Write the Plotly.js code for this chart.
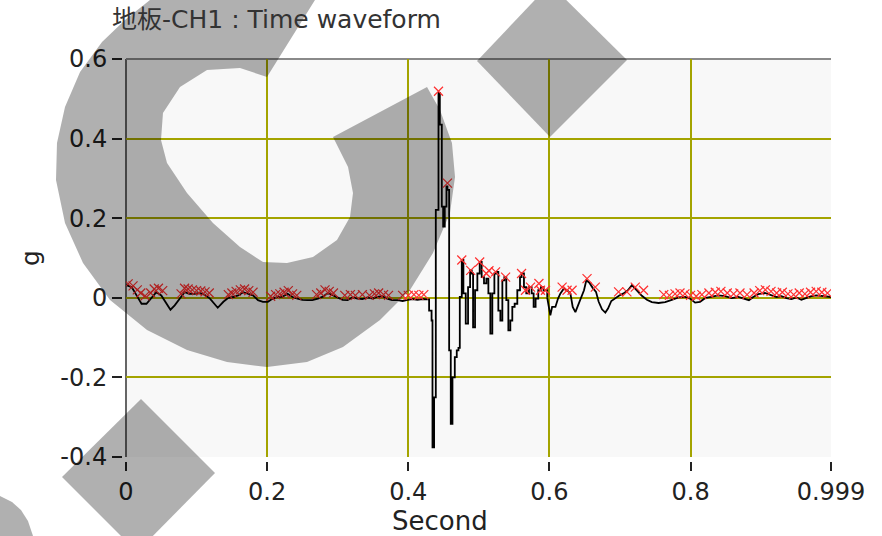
<!DOCTYPE html>
<html><head><meta charset="utf-8">
<script src="https://cdn.plot.ly/plotly-3.0.1.min.js"></script>
<style>html,body{margin:0;padding:0;background:#fff}#chart{width:882px;height:536px}</style>
</head><body><div id="chart"></div>
<script>
// ---- data ----
const timeSec = [
0.000,0.008,0.015,0.022,0.029,0.036,0.043,0.050,0.057,0.063,0.069,0.076,0.083,0.090,0.097,0.104,0.111,0.119,0.126,0.130,
0.138,0.145,0.152,0.159,0.166,0.173,0.180,0.187,0.194,0.201,0.208,0.215,0.222,0.229,0.236,0.243,0.250,0.257,0.264,0.272,
0.279,0.286,0.293,0.300,0.307,0.314,0.321,0.328,0.335,0.342,0.349,0.356,0.363,0.370,0.377,0.385,0.392,0.399,0.406,0.413,
0.420,0.427,0.4295,0.4330,0.4343,0.4366,0.4390,0.4428,0.4447,0.4475,0.4494,0.4517,0.4541,0.4555,0.4579,0.4602,0.4626,0.4659,0.4687,0.4711,
0.4730,0.4758,0.4781,0.4814,0.4847,0.4876,0.4899,0.4918,0.4946,0.4979,0.5012,0.5040,0.5073,0.5107,0.5135,0.5163,0.5191,0.5220,0.5248,0.5276,
0.5305,0.5333,0.5361,0.5389,0.5418,0.5446,0.5474,0.5507,0.5545,0.5583,0.5606,0.5639,0.5672,0.5710,0.5748,0.5776,0.5804,0.5842,0.5880,0.5917,
0.5969,0.6013,0.6038,0.6085,0.6122,0.6156,0.6203,0.6250,0.6297,0.6330,0.6368,0.6405,0.6452,0.6490,0.6523,0.6566,0.6613,0.6660,0.6698,0.6745,
0.6792,0.6830,0.6877,0.6933,0.6990,0.7051,0.7112,0.7169,0.7207,0.7254,0.7310,0.7381,0.7451,0.7546,0.7640,0.7734,0.7828,0.7922,0.7993,0.8064,
0.8134,0.8205,0.8299,0.8393,0.8488,0.8582,0.8676,0.8770,0.8827,0.8888,0.8959,0.9053,0.9147,0.9218,0.9288,0.9359,0.9430,0.9500,0.9571,0.9642,
0.9712,0.9783,0.9854,0.9925,0.9990
];
const accelG = [
0.032,0.027,0.006,-0.015,-0.015,0.001,0.014,0.006,-0.015,-0.030,-0.019,-0.002,0.014,0.010,0.010,0.012,0.008,-0.002,-0.016,-0.025,
-0.010,0.000,0.002,0.006,0.014,0.010,0.006,-0.006,-0.010,-0.010,-0.002,0.002,0.003,0.010,0.002,-0.002,-0.005,-0.006,-0.006,-0.002,
0.003,0.012,0.006,0.000,-0.005,-0.006,0.001,-0.002,-0.003,0.001,-0.002,0.002,0.004,-0.002,-0.006,-0.006,-0.008,-0.005,-0.003,-0.005,
-0.003,-0.004,-0.032,-0.057,-0.376,-0.250,0.221,0.515,0.435,0.229,0.179,0.229,0.280,0.271,-0.132,-0.317,-0.200,-0.149,-0.132,-0.126,
0.002,0.095,0.011,-0.065,0.027,0.069,0.061,-0.074,0.019,0.061,0.090,0.052,0.036,0.048,0.011,-0.090,0.011,0.061,0.065,-0.032,
-0.057,0.044,0.052,-0.006,-0.082,-0.057,-0.023,-0.015,0.019,0.052,0.061,0.027,0.011,0.027,0.011,-0.023,-0.002,0.019,0.027,0.019,
0.000,-0.044,-0.023,-0.023,-0.002,0.011,0.023,0.019,0.011,-0.023,-0.036,-0.019,-0.002,0.019,0.044,0.038,0.025,0.015,-0.010,-0.029,
-0.037,-0.027,-0.008,0.000,0.006,0.011,0.019,0.032,0.025,0.015,0.005,-0.005,-0.011,-0.013,-0.011,-0.005,0.001,0.002,-0.002,-0.012,
-0.010,-0.001,0.002,0.006,0.004,-0.001,0.002,-0.003,-0.006,0.002,0.009,0.012,0.006,0.002,0.004,-0.001,-0.003,0.001,-0.005,-0.001,
0.004,0.006,0.004,0.002,0.002
];
const peakTime = [
0.003,0.010,0.016,0.021,0.027,0.035,0.040,0.046,0.052,0.078,0.083,0.088,0.094,0.100,0.106,0.112,0.118,0.145,0.150,0.156,
0.162,0.168,0.174,0.180,0.205,0.212,0.218,0.224,0.230,0.236,0.242,0.270,0.276,0.282,0.288,0.294,0.310,0.318,0.325,0.335,
0.345,0.352,0.358,0.365,0.372,0.392,0.400,0.408,0.415,0.422,
0.4428,0.4555,0.4758,0.4884,0.5012,0.5106,0.5143,0.5237,0.5379,0.5605,0.5661,0.5732,0.5851,0.5873,0.5944,0.6180,0.6250,0.6321,0.6533,0.6650,
0.6980,0.7098,0.7216,0.7334,
0.762,0.770,0.778,0.785,0.792,0.800,0.808,0.816,0.826,0.835,0.843,0.852,0.861,0.870,0.880,0.890,0.898,0.906,0.914,0.922,
0.930,0.938,0.946,0.954,0.962,0.970,0.978,0.986,0.994
];
const peakG = [
0.035,0.030,0.020,0.012,0.005,0.012,0.022,0.024,0.018,0.010,0.024,0.022,0.020,0.018,0.017,0.015,0.012,0.008,0.012,0.016,
0.020,0.022,0.018,0.014,0.004,0.008,0.010,0.014,0.018,0.010,0.006,0.008,0.012,0.020,0.016,0.012,0.006,0.008,0.006,0.008,
0.006,0.010,0.012,0.008,0.006,0.006,0.006,0.008,0.006,0.008,
0.519,0.288,0.095,0.069,0.090,0.061,0.068,0.065,0.052,0.061,0.019,0.027,0.036,0.019,0.019,0.027,0.019,0.019,0.048,0.027,
0.015,0.015,0.027,0.019,
0.008,0.006,0.010,0.012,0.010,0.006,0.004,0.008,0.012,0.014,0.016,0.012,0.010,0.012,0.008,0.012,0.018,0.020,0.016,0.012,
0.014,0.010,0.008,0.012,0.010,0.014,0.016,0.014,0.012
];
const xTickVals = [0, 0.2, 0.4, 0.6, 0.8, 0.999];
const xTickText = ['0', '0.2', '0.4', '0.6', '0.8', '0.999'];
const yTickVals = [-0.4, -0.2, 0, 0.2, 0.4, 0.6];
const yTickText = ['-0.4', '-0.2', '0', '0.2', '0.4', '0.6'];
const xGridVals = [0.2, 0.4, 0.6, 0.8];
const yGridVals = [-0.2, 0, 0.2, 0.4];

// the impact segment is drawn stepped, the rest as a plain line
const stepStart = timeSec.indexOf(0.427), stepEnd = timeSec.indexOf(0.5969);

// ---- layout geometry ----
const W = 882, H = 536;
const M = {l: 122, r: 51, t: 59, b: 75};
const PW = W - M.l - M.r, PH = H - M.t - M.b;
const P = (px, py) => [((px - M.l) / PW).toFixed(4), ((H - M.b - py) / PH).toFixed(4)];
const pathFrom = pts => 'M' + pts.map(p => P(p[0], p[1]).join(',')).join('L') + 'Z';

// watermark overlay outlines (decoration, pixel positions)
const gMark = [[150,0],[315,0],[267,77],[240,68],[207,70],[180,87],[163,113],[161,140],[167,163],[187,193],[213,223],[240,247],
 [263,262],[287,263],[313,257],[337,240],[350,217],[353,193],[348,167],[333,137],[427,87],[440,110],[452,143],[455,177],
 [450,213],[433,253],[410,290],[380,320],[343,347],[307,362],[267,367],[227,362],[187,350],[147,330],[110,300],[83,263],
 [65,223],[56,180],[57,143],[65,107],[80,72],[102,42],[125,20],[145,4]];
const diamondTop = [[477,61],[550,-16],[627,60],[550,137]];
const diamondBottom = [[141,399],[215,473],[137,552],[62,477]];
const cornerArc = [[0,496],[12,502],[21,510],[28,521],[33,536],[0,536]];
const wmFill = 'rgba(0,0,0,0.31)';
const wm = [gMark, diamondTop, diamondBottom, cornerArc].map(pts => ({
  type: 'path', xref: 'paper', yref: 'paper', path: pathFrom(pts),
  fillcolor: wmFill, line: {width: 0}, layer: 'above'
}));

const xDomain0 = 4 / PW, yDomain0 = 4 / PH;
const borders = [
  {type:'line', xref:'paper', yref:'paper', x0:xDomain0, x1:xDomain0, y0:yDomain0, y1:1, line:{color:'#555', width:1.8}, layer:'below'},
  {type:'line', xref:'paper', yref:'paper', x0:xDomain0, x1:1, y0:1, y1:1, line:{color:'#8a8a8a', width:1.8}, layer:'below'}
];

const FONT = 'DejaVu Sans, Noto Sans CJK TC, sans-serif';
const lineStyle = {color: '#000', width: 1.8};
const traces = [
  {x: timeSec.slice(0, stepStart + 1), y: accelG.slice(0, stepStart + 1), type: 'scatter', mode: 'lines', line: lineStyle},
  {x: timeSec.slice(stepStart, stepEnd + 1), y: accelG.slice(stepStart, stepEnd + 1), type: 'scatter', mode: 'lines',
   line: Object.assign({shape: 'hv'}, lineStyle)},
  {x: timeSec.slice(stepEnd), y: accelG.slice(stepEnd), type: 'scatter', mode: 'lines', line: lineStyle},
  {x: peakTime, y: peakG, type: 'scatter', mode: 'markers',
   marker: {symbol: 'x-thin', size: 9, color: '#ff3030', line: {color: '#ff3030', width: 1.2}}}
];
const layout = {
  width: W, height: H, margin: M, showlegend: false,
  paper_bgcolor: '#ffffff', plot_bgcolor: '#f8f8f8',
  font: {family: FONT, size: 24, color: '#222'},
  title: {text: '地板-CH1 : Time waveform', x: 112 / W, xref: 'container', xanchor: 'left',
          y: 1 - 19 / H, yref: 'container', yanchor: 'middle', font: {family: FONT, size: 25, color: '#333'}},
  xaxis: {domain: [xDomain0, 1], range: [0, 0.999], anchor: 'free', position: 0,
          tickmode: 'array', tickvals: xTickVals, ticktext: xTickText,
          ticks: 'outside', ticklen: 9, tickwidth: 2, tickcolor: '#222',
          showgrid: false, zeroline: false, showline: false,
          minor: {tickmode: 'array', tickvals: xGridVals, showgrid: true, gridcolor: '#a4a400', gridwidth: 2, ticks: ''}},
  yaxis: {domain: [yDomain0, 1], range: [-0.4, 0.6], anchor: 'free', position: 0,
          tickmode: 'array', tickvals: yTickVals, ticktext: yTickText,
          ticks: 'outside', ticklen: 10, tickwidth: 2, tickcolor: '#222',
          showgrid: false, zeroline: false, showline: false,
          minor: {tickmode: 'array', tickvals: yGridVals, showgrid: true, gridcolor: '#a4a400', gridwidth: 2, ticks: ''},
          title: {text: 'g', standoff: 12, font: {family: FONT, size: 25, color: '#222'}}},
  annotations: [{text: 'Second', xref: 'paper', yref: 'paper', x: (440 - M.l) / PW, y: (H - M.b - 521) / PH,
                 xanchor: 'center', yanchor: 'middle', showarrow: false, font: {family: FONT, size: 26, color: '#222'}}],
  shapes: borders.concat(wm)
};
Plotly.newPlot('chart', traces, layout, {displayModeBar: false, staticPlot: true});
</script></body></html>
